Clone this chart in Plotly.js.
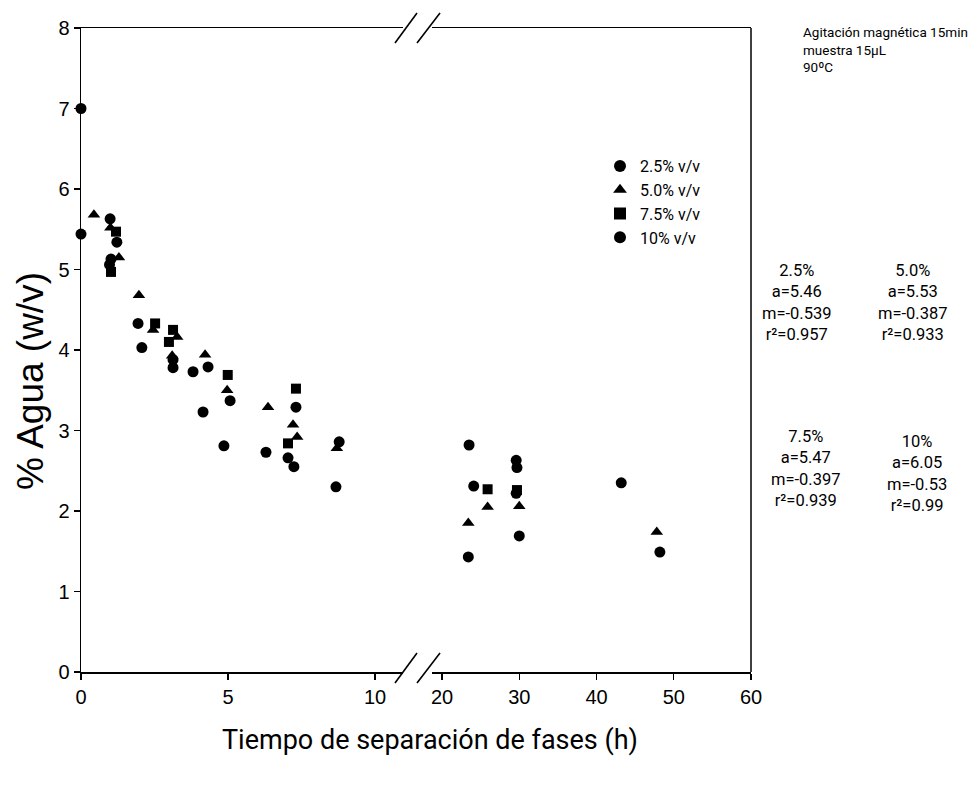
<!DOCTYPE html>
<html>
<head>
<meta charset="utf-8">
<script src="https://cdn.plot.ly/plotly-3.0.1.min.js"></script>
<style>html,body{margin:0;padding:0;background:#fff;}#chart{width:976px;height:786px;}</style>
</head>
<body>
<div id="chart"></div>
<script>
// ---- data ----
const seriesNames = ['2.5% v/v', '5.0% v/v', '7.5% v/v', '10% v/v'];
const seriesSymbols = ['circle', 'triangle-up', 'square', 'circle'];

const x25 = [0, 0.99, 1.02, 1.94, 3.13, 4.32, 5.07, 7.31, 8.78, 23.5, 29.6, 43.2];
const y25 = [7.0, 5.63, 5.13, 4.33, 3.88, 3.79, 3.37, 3.29, 2.86, 2.82, 2.63, 2.35];

const x50 = [0.44, 1.0, 1.29, 1.97, 2.45, 3.27, 3.1, 4.22, 4.97, 6.36, 7.21, 7.35, 8.7, 23.4, 25.9, 30.0, 47.8];
const y50 = [5.68, 5.52, 5.15, 4.68, 4.25, 4.16, 3.93, 3.94, 3.50, 3.29, 3.07, 2.92, 2.78, 1.85, 2.05, 2.06, 1.74];

const x75 = [1.19, 1.02, 2.52, 3.13, 2.99, 4.99, 7.31, 7.04, 25.9, 29.7];
const y75 = [5.47, 4.97, 4.33, 4.25, 4.10, 3.69, 3.52, 2.84, 2.27, 2.26];

const x10 = [0, 1.22, 0.97, 2.07, 3.13, 3.81, 4.15, 4.86, 6.29, 7.04, 7.24, 8.67, 24.1, 23.4, 29.7, 29.6, 30.0, 48.2];
const y10 = [5.44, 5.34, 5.06, 4.03, 3.78, 3.73, 3.23, 2.81, 2.73, 2.66, 2.55, 2.30, 2.31, 1.43, 2.54, 2.22, 1.69, 1.49];

const xTicksLeft = [0, 5, 10];
const xTicksRight = [20, 30, 40, 50, 60];
const yTicks = [0, 1, 2, 3, 4, 5, 6, 7, 8];

const statTitles = ['2.5%', '5.0%', '7.5%', '10%'];
const statA = ['5.46', '5.53', '5.47', '6.05'];
const statM = ['-0.539', '-0.387', '-0.397', '-0.53'];
const statR2 = ['0.957', '0.933', '0.939', '0.99'];

const noteLines = ['Agitación magnética 15min', 'muestra 15µL', '90ºC'];
const xTitle = 'Tiempo de separación de fases (h)';
const yTitle = '% Agua (w/v)';

// ---- layout helpers ----
const W = 976, H = 786;
const L = 81, R = 751, T = 28, B = 672;
const xp = px => (px - L) / (R - L);
const yp = py => (B - py) / (B - T);
const BREAK = 15;

const narrow = "Roboto, 'Liberation Sans', sans-serif";
const arial = "'Liberation Sans', Arial, sans-serif";

const allX = [x25, x50, x75, x10];
const allY = [y25, y50, y75, y10];
const sizes = [11, 11, 10, 11];

const traces = [];
seriesNames.forEach((name, i) => {
  const lx = [], ly = [], rx = [], ry = [];
  allX[i].forEach((v, j) => {
    if (v < BREAK) { lx.push(v); ly.push(allY[i][j]); }
    else { rx.push(v); ry.push(allY[i][j]); }
  });
  const marker = {symbol: seriesSymbols[i], color: '#000', size: sizes[i]};
  traces.push({x: lx, y: ly, type: 'scatter', mode: 'markers', name: name,
    legendgroup: 'g' + i, marker: marker, xaxis: 'x', yaxis: 'y', cliponaxis: false});
  traces.push({x: rx, y: ry, type: 'scatter', mode: 'markers', name: name,
    legendgroup: 'g' + i, showlegend: false, marker: marker, xaxis: 'x2', yaxis: 'y', cliponaxis: false});
});

const axisStyle = {
  showline: true, linecolor: '#000', linewidth: 1.5, mirror: true,
  ticks: 'outside', ticklen: 6, tickwidth: 1.2, tickcolor: '#000',
  showgrid: false, zeroline: false,
  tickfont: {family: arial, size: 20, color: '#000'}
};

const annotations = [];
annotations.push({
  xref: 'paper', yref: 'paper', x: xp(801), y: yp(22), xanchor: 'left', yanchor: 'top',
  align: 'left', showarrow: false, text: noteLines.join('<br>'),
  font: {family: narrow, size: 13.5, color: '#000'}
});
const statPos = [[797, 303], [913, 303], [806, 468], [917, 473]];
statTitles.forEach((t, i) => {
  annotations.push({
    xref: 'paper', yref: 'paper', x: xp(statPos[i][0]), y: yp(statPos[i][1]),
    xanchor: 'center', yanchor: 'middle', align: 'center', showarrow: false,
    text: [t, 'a=' + statA[i], 'm=' + statM[i], 'r²=' + statR2[i]].join('<br>'),
    font: {family: narrow, size: 16.5, color: '#000'}
  });
});
annotations.push({
  xref: 'paper', yref: 'paper', x: xp(430), y: yp(740), xanchor: 'center', yanchor: 'middle',
  showarrow: false, text: xTitle, font: {family: narrow, size: 27, color: '#000'}
});
annotations.push({
  xref: 'paper', yref: 'paper', x: xp(30), y: yp(381), xanchor: 'center', yanchor: 'middle',
  showarrow: false, text: yTitle, textangle: -90, font: {family: arial, size: 37, color: '#000'}
});

const seg = (x0, y0, x1, y1, w) => ({type: 'line', xref: 'paper', yref: 'paper',
  x0: xp(x0), y0: yp(y0), x1: xp(x1), y1: yp(y1), line: {color: '#000', width: w}});
const shapes = [
  seg(R, B, R, T, 1.5),
  seg(395, 683, 417, 653, 1.6), seg(417, 683, 440, 653, 1.6),
  seg(395, 43, 417, 13, 1.6), seg(417, 43, 440, 13, 1.6)
];

const layout = {
  width: W, height: H,
  margin: {l: L, r: W - R, t: T, b: H - B, pad: 0},
  paper_bgcolor: '#fff', plot_bgcolor: '#fff',
  showlegend: true,
  legend: {x: xp(600), y: yp(149), xanchor: 'left', yanchor: 'top',
    bgcolor: 'rgba(0,0,0,0)', font: {family: narrow, size: 16, color: '#000'},
    tracegroupgap: 0, itemsizing: 'constant'},
  xaxis: Object.assign({}, axisStyle, {domain: [0, xp(403)], range: [0, 10.95],
    tickmode: 'array', tickvals: xTicksLeft, ticktext: xTicksLeft.map(String), anchor: 'y'}),
  xaxis2: Object.assign({}, axisStyle, {domain: [xp(432), 1], range: [18.7, 60],
    tickmode: 'array', tickvals: xTicksRight, ticktext: xTicksRight.map(String), anchor: 'y'}),
  yaxis: Object.assign({}, axisStyle, {mirror: false, range: [0, 8], tickmode: 'array',
    tickvals: yTicks, ticktext: yTicks.map(String), anchor: 'x'}),
  annotations: annotations,
  shapes: shapes
};

Plotly.newPlot('chart', traces, layout, {displayModeBar: false, staticPlot: true});
</script>
</body>
</html>
